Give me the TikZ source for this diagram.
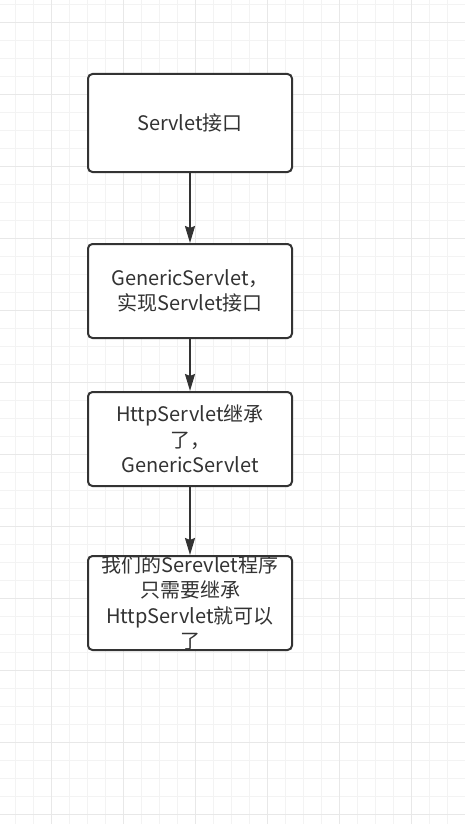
\documentclass[tikz,border=0pt]{standalone}
\usepackage{fontspec}
\setmainfont{Noto Sans CJK SC}
\usetikzlibrary{arrows.meta}
\definecolor{ink}{HTML}{333333}
\definecolor{gridthin}{HTML}{F3F3F3}
\definecolor{gridthick}{HTML}{E8E8E8}
\tikzset{
  boxshape/.style={draw=ink, line width=2pt, rounded corners=4.5pt, fill=white,
    minimum width=204pt, minimum height=94pt, inner sep=0pt},
  boxtext/.style={text=ink, align=center, inner sep=0pt,
    font=\fontsize{20pt}{25.5pt}\selectfont},
  flow/.style={draw=ink, line width=2pt, -{Stealth[length=17pt,width=10pt,inset=2pt]}},
}
\begin{document}
\begin{tikzpicture}[x=1pt,y=-1pt]
\useasboundingbox (0,0) rectangle (465,824);
\fill[white] (0,0) rectangle (465,824);
% grid
\foreach \k in {0,...,25}{
  \pgfmathsetmacro{\gx}{15+18*\k}
  \draw[gridthin, line width=1pt] (\gx,0) -- (\gx,824);
}
\foreach \k in {-1,...,44}{
  \pgfmathsetmacro{\gy}{22.7+18*\k}
  \draw[gridthin, line width=1pt] (0,\gy) -- (465,\gy);
}
\foreach \k in {0,...,6}{
  \pgfmathsetmacro{\gx}{51+72*\k}
  \draw[gridthick, line width=1pt] (\gx,0) -- (\gx,824);
}
\foreach \k in {0,...,11}{
  \pgfmathsetmacro{\gy}{22.7+72*\k}
  \draw[gridthick, line width=1pt] (0,\gy) -- (465,\gy);
}
% boxes
\node[boxshape, minimum height=98pt] (b1) at (190,123) {};
\node[boxshape] (b2) at (190,291) {};
\node[boxshape] (b3) at (190,439) {};
\node[boxshape] (b4) at (190,603) {};
\node[boxtext] (t1) at (b1.center) {Servlet接口};
\node[boxtext] (t2) at (b2.center) {GenericServlet，\\实现Servlet接口};
\node[boxtext] (t3) at (b3.center) {HttpServlet继承\\了，\\GenericServlet};
\node[boxtext] (t4) at (b4.center) {我们的Serevlet程序\\只需要继承\\HttpServlet就可以\\了};
% connectors
\draw[flow] (b1.south) -- (b2.north);
\draw[flow] (b2.south) -- (b3.north);
\draw[flow] (b3.south) -- (b4.north);
\end{tikzpicture}
\end{document}
